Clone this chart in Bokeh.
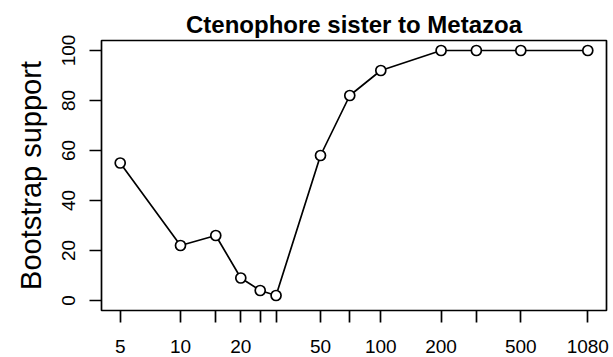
from bokeh.plotting import figure
from bokeh.models import Range1d, FixedTicker, CustomJSTickFormatter
from bokeh.embed import file_html
from bokeh.resources import INLINE
import math

# Data
n_sites = [5, 10, 15, 20, 25, 30, 50, 70, 100, 200, 300, 500, 1080]
support = [55, 22, 26, 9, 4, 2, 58, 82, 92, 100, 100, 100, 100]
labeled_ticks = [5, 10, 20, 50, 100, 200, 500, 1080]
unlabeled_ticks = [15, 25, 30, 70, 300]
y_ticks = [0, 20, 40, 60, 80, 100]
title_text = "Ctenophore sister to Metazoa"
y_label = "Bootstrap support"

FONT = "Liberation Sans"
LW = 1.7

# R-style 4% range extension
lx0, lx1 = math.log10(min(n_sites)), math.log10(max(n_sites))
dx = (lx1 - lx0) * 0.04
x_range = Range1d(10 ** (lx0 - dx), 10 ** (lx1 + dx))
y_range = Range1d(-4, 104)

p = figure(width=613, height=357, x_axis_type="log",
           x_range=x_range, y_range=y_range,
           output_backend="svg", toolbar_location=None,
           min_border_left=101, min_border_right=7,
           min_border_top=40, min_border_bottom=47)

p.background_fill_color = "white"
p.border_fill_color = "white"
p.outline_line_color = "black"
p.outline_line_width = LW
p.xgrid.visible = False
p.ygrid.visible = False

# Title
p.title.text = title_text
p.title.text_font = FONT
p.title.text_font_style = "bold"
p.title.text_font_size = "24px"
p.title.text_color = "black"
p.title.align = "center"
p.title.standoff = 6

# X axis
xa = p.xaxis[0]
xa.ticker = FixedTicker(ticks=labeled_ticks, minor_ticks=unlabeled_ticks)
xa.formatter = CustomJSTickFormatter(code="return String(Math.round(tick));")
xa.axis_line_color = None
xa.major_tick_line_color = "black"
xa.minor_tick_line_color = "black"
xa.major_tick_line_width = LW
xa.minor_tick_line_width = LW
xa.major_tick_in = 0
xa.minor_tick_in = 0
xa.major_tick_out = 12
xa.minor_tick_out = 12
xa.major_label_text_font = FONT
xa.major_label_text_font_size = "19px"
xa.major_label_text_color = "black"
xa.major_label_standoff = 17

# Y axis
ya = p.yaxis[0]
ya.ticker = FixedTicker(ticks=y_ticks)
ya.axis_line_color = None
ya.major_tick_line_color = "black"
ya.major_tick_line_width = LW
ya.minor_tick_line_color = None
ya.major_tick_in = 0
ya.major_tick_out = 12
ya.major_label_orientation = "vertical"
ya.major_label_text_font = FONT
ya.major_label_text_font_size = "19px"
ya.major_label_text_color = "black"
ya.major_label_standoff = 15
ya.axis_label = y_label
ya.axis_label_text_font = FONT
ya.axis_label_text_font_style = "normal"
ya.axis_label_text_font_size = "29px"
ya.axis_label_text_color = "black"
ya.axis_label_standoff = 12

# Data: line with open circles (type="b" look)
p.line(n_sites, support, line_color="black", line_width=LW)
p.scatter(n_sites, support, marker="circle", size=10,
          fill_color="white", line_color="black", line_width=LW)

open("out.html", "w").write(file_html(p, INLINE))
